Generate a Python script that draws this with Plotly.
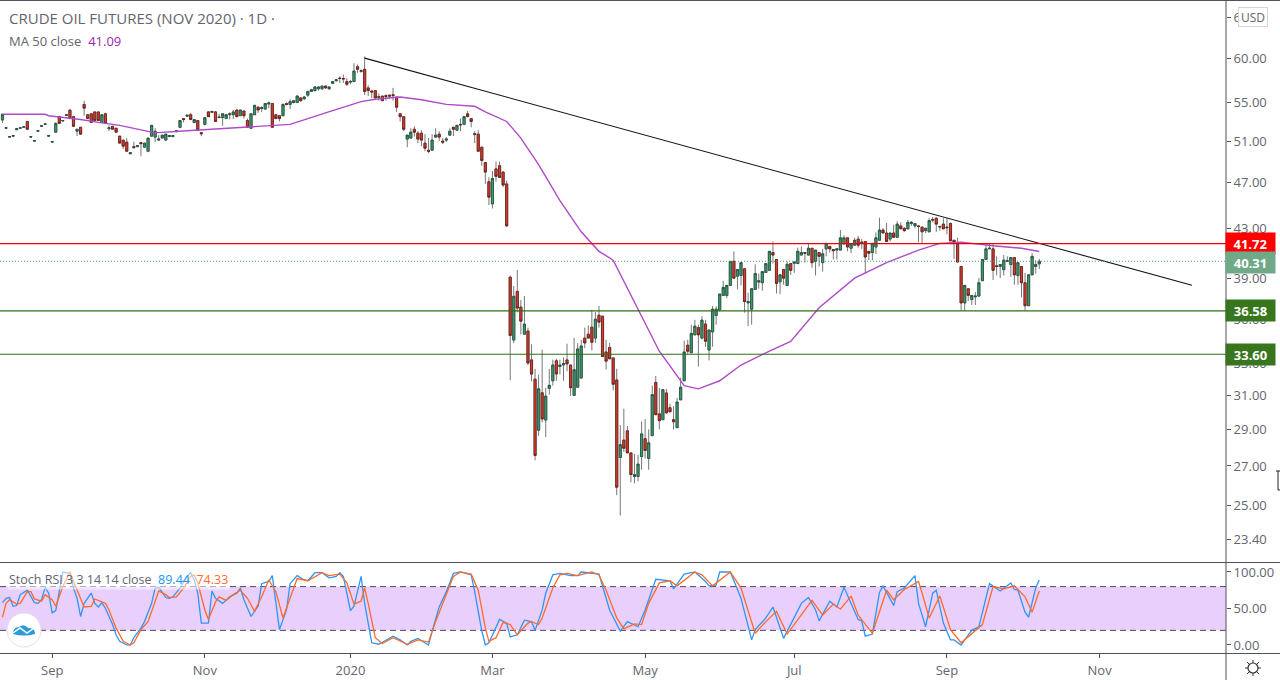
import plotly.graph_objects as go
from plotly.subplots import make_subplots

# daily bars (log price scale)
opens = [53.15,52.3,51.4,51.5,52.15,52.3,52.4,53.0,51.4,51.0,52.0,52.5,52.7,51.5,50.9,51.9,53.5,53.05,53.7,54.2,
         53.5,52.0,52.4,54.8,53.7,53.8,54.0,54.0,52.9,53.8,52.25,52.5,52.3,51.5,51.1,50.9,49.75,50.45,50.45,50.85,
         50.4,50.0,51.5,51.4,51.1,51.3,51.1,51.45,51.45,51.95,52.4,53.3,53.55,53.7,52.9,53.1,51.85,52.7,54.0,53.95,
         54.0,53.4,53.4,53.3,53.7,53.7,54.2,53.6,54.1,53.1,52.3,53.7,54.5,54.35,54.3,54.85,54.9,53.7,53.6,53.6,
         54.9,54.8,55.0,55.0,55.5,55.4,55.8,56.2,56.3,56.5,56.5,56.8,56.5,57.1,57.4,57.7,57.65,57.3,57.25,57.3,
         59.0,58.45,58.7,56.6,56.25,56.3,55.55,55.7,55.75,55.8,55.85,55.6,53.8,53.5,51.2,51.3,52.2,51.8,51.8,50.8,
         50.1,50.1,51.4,51.7,51.0,51.1,51.6,52.4,52.1,52.7,52.7,53.8,53.3,51.65,51.7,50.4,48.9,47.1,45.1,48.3,
         48.6,48.0,46.9,39.07,34.55,38.0,36.85,34.95,35.16,33.23,32.0,28.96,31.16,29.54,31.43,31.9,33.17,32.8,32.9,33.23,
         32.9,31.0,31.5,32.07,34.68,34.95,35.43,34.68,36.27,36.2,33.75,34.05,33.36,31.95,27.45,28.4,28.92,27.7,26.45,26.45,
         27.5,28.48,27.4,28.65,31.8,29.9,29.56,31.15,30.26,29.56,29.1,30.73,31.9,34.2,33.7,34.9,35.4,34.68,35.65,33.88,
         35.1,36.25,36.65,37.7,37.7,38.45,40.3,39.15,39.2,39.72,37.15,36.7,38.15,38.7,38.65,39.43,39.6,41.0,40.45,38.72,
         39.67,38.45,40.13,40.15,40.13,40.8,41.0,40.8,41.35,40.3,41.0,40.2,41.3,41.5,41.25,41.2,41.2,41.7,42.2,41.35,
         41.6,42.1,41.75,41.9,41.1,41.0,41.45,42.0,42.85,42.6,42.1,42.6,42.25,43.2,43.0,42.95,43.4,43.2,43.2,43.1,
         42.8,42.7,43.75,43.85,43.1,43.35,43.1,43.4,42.0,41.65,39.9,37.15,38.2,37.4,37.6,37.65,38.8,40.45,41.3,41.3,
         39.95,39.9,39.65,40.3,40.05,40.6,39.2,39.9,38.65,36.95,39.25,39.9,40.1]
highs = [53.8,52.35,51.45,51.55,52.25,52.35,52.45,53.05,51.45,51.05,52.05,52.55,52.75,51.55,50.95,52.9,53.6,53.1,53.75,54.2,
         53.5,52.2,52.4,55.2,53.7,53.8,54.0,54.0,53.7,53.9,52.6,52.5,52.3,51.5,51.1,51.3,49.85,50.95,50.55,50.85,
         50.8,51.3,52.6,52.3,51.6,51.6,51.7,51.55,51.55,52.05,53.1,53.3,53.65,53.9,53.2,53.1,51.85,53.4,54.1,54.05,
         54.1,53.8,53.8,53.8,53.95,54.2,54.25,54.25,54.1,53.3,53.8,54.7,54.6,54.6,54.9,55.1,54.9,53.7,53.6,54.9,
         55.0,55.35,55.2,55.8,55.6,55.7,56.3,56.5,56.8,56.8,56.9,56.9,56.7,57.35,57.6,57.9,58.1,57.7,57.5,59.4,
         59.25,58.7,60.2,56.9,56.4,56.3,56.0,55.7,55.9,55.85,56.6,55.6,53.8,53.5,51.6,52.3,52.5,52.0,52.1,51.7,
         51.3,51.7,52.3,52.0,51.3,51.4,52.3,52.4,52.6,53.3,53.5,54.1,53.3,52.0,52.1,50.4,48.9,47.5,48.1,49.0,
         49.0,48.1,47.2,39.2,38.4,39.62,37.37,37.66,35.4,34.26,32.65,32.3,33.9,31.46,32.65,33.25,33.3,33.25,33.4,34.3,
         32.9,34.7,34.35,34.57,35.4,35.55,36.65,36.5,36.93,36.2,34.57,34.35,33.36,32.66,29.25,30.2,29.2,27.7,27.65,27.6,
         29.45,29.6,29.0,31.6,32.2,31.45,31.35,31.4,30.5,30.35,30.85,32.1,34.5,34.57,35.6,35.94,35.6,36.2,35.94,35.23,
         36.93,36.9,37.8,38.8,38.45,40.3,41.1,39.67,40.2,39.72,37.9,38.2,40.07,39.35,39.5,40.13,41.1,41.9,40.45,39.25,
         39.67,40.3,40.13,40.25,41.4,41.5,41.05,41.7,41.35,41.2,41.0,41.3,41.75,41.5,41.3,41.3,42.85,42.4,42.2,41.7,
         42.2,42.35,42.1,41.9,41.1,41.75,42.65,43.9,43.0,43.45,42.6,43.3,43.6,43.5,43.1,43.7,43.6,43.4,43.25,43.1,
         43.0,43.85,43.95,43.95,43.2,43.85,43.85,43.5,42.0,42.2,39.9,38.45,38.2,37.7,37.95,39.0,40.45,41.7,41.7,41.7,
         40.7,40.1,40.8,40.7,40.6,40.6,40.2,39.9,39.4,39.25,40.95,40.4,40.5]
lows = [52.85,52.25,51.35,51.45,52.15,52.25,52.35,52.1,51.35,50.95,51.95,52.45,52.65,51.45,50.85,51.9,52.8,53.0,53.65,53.3,
        52.5,51.5,51.7,53.6,53.3,52.9,53.1,53.1,52.9,52.8,52.0,52.2,51.9,50.8,50.2,50.0,49.75,50.35,50.45,49.5,
        50.4,49.9,51.5,50.9,51.0,51.3,51.1,51.45,51.45,51.95,52.3,52.9,53.55,53.2,52.8,52.1,51.5,52.6,53.5,53.95,
        53.0,53.4,52.55,53.3,53.2,53.25,53.5,53.6,53.3,52.35,52.3,53.7,53.9,54.0,54.3,54.4,52.4,53.3,53.0,53.6,
        54.7,54.3,54.9,55.0,55.1,55.3,55.6,56.2,56.2,56.3,56.4,56.5,56.4,57.1,57.3,57.15,57.15,56.8,57.0,57.3,
        58.3,58.3,55.8,55.7,55.5,55.5,55.2,55.2,55.2,55.4,55.2,54.0,53.0,52.0,50.4,51.3,51.45,50.8,50.5,50.0,
        49.8,50.1,51.3,51.0,50.7,50.9,51.6,51.5,52.1,52.0,52.7,53.5,52.4,50.8,50.0,48.6,46.9,45.0,44.7,47.1,
        47.5,46.6,43.1,31.93,34.35,36.47,34.93,34.9,32.9,31.86,27.3,28.64,29.4,28.57,31.05,31.6,31.9,32.3,31.9,32.5,
        30.97,31.0,31.5,32.07,34.0,34.68,33.85,34.35,35.4,33.45,32.6,33.3,31.3,25.5,24.5,27.75,27.7,26.15,26.1,26.2,
        26.8,27.4,26.8,28.65,29.85,29.0,29.56,29.9,30.02,29.0,29.1,30.73,31.9,33.6,33.7,34.9,32.8,34.6,34.1,33.2,
        34.1,35.6,36.55,37.7,37.5,38.4,39.0,38.15,38.45,36.45,35.5,35.6,38.15,38.2,38.05,39.43,39.55,40.13,37.85,37.8,
        38.5,38.4,39.25,39.4,40.13,40.8,40.2,40.75,39.8,39.2,39.9,39.5,40.7,41.0,40.45,40.45,41.2,41.7,41.1,40.95,
        41.6,41.4,41.3,39.35,40.4,40.4,40.9,42.0,42.6,41.9,41.9,42.25,42.2,42.95,42.7,42.9,43.2,43.0,41.85,41.7,
        42.6,42.7,43.5,42.7,42.8,42.95,42.5,41.95,40.5,40.25,36.6,36.6,37.3,37.0,37.0,37.65,38.8,40.45,41.3,38.85,
        39.2,39.0,39.2,40.3,39.1,38.5,38.5,37.55,36.6,36.95,39.25,39.35,39.7]
closes = [53.75,52.35,51.45,51.55,52.25,52.35,52.45,52.2,51.45,51.05,52.05,52.55,52.75,51.55,50.95,52.8,52.8,53.1,53.65,53.3,
          52.5,52.2,51.7,54.4,53.3,52.9,53.1,53.1,53.7,52.8,52.35,52.2,51.9,50.8,50.5,50.0,49.85,50.35,50.55,50.75,
          50.8,51.3,52.6,52.0,51.2,51.6,51.7,51.55,51.55,52.05,53.1,53.2,53.65,53.2,53.2,52.1,51.75,53.4,53.5,54.05,
          53.0,53.45,53.8,53.7,53.8,54.0,53.5,54.2,53.6,52.4,53.8,54.7,54.2,54.45,54.9,54.95,52.4,53.3,53.3,54.8,
          54.8,55.1,55.2,55.7,55.2,55.6,56.2,56.4,56.7,56.7,56.8,56.6,56.7,57.3,57.5,57.65,57.6,57.0,57.3,58.5,
          58.7,58.55,56.2,56.3,56.15,55.5,55.65,55.2,55.65,55.7,55.75,54.5,53.5,52.2,51.6,51.9,51.9,51.2,51.1,50.3,
          50.0,51.1,51.6,51.4,50.9,51.2,52.0,52.2,52.6,52.65,53.5,53.5,53.0,51.75,50.0,49.1,48.0,45.7,47.4,47.6,
          47.5,46.8,43.2,34.86,37.64,36.78,35.85,35.64,33.03,32.32,27.56,31.4,29.6,30.96,31.62,32.9,32.33,32.9,33.0,32.97,
          31.47,32.6,33.95,34.15,34.35,34.68,34.4,35.99,35.78,33.45,33.15,33.3,31.68,25.9,28.15,27.95,27.7,26.55,26.55,27.1,
          28.75,27.83,28.25,31.05,29.85,29.5,31.35,29.96,30.02,29.44,30.6,31.5,33.75,33.8,35.0,35.5,34.9,35.92,34.47,35.23,
          36.7,36.7,37.8,38.3,38.45,40.3,39.0,39.67,40.2,37.25,37.25,38.2,39.35,38.8,39.5,40.13,41.1,40.8,38.6,39.25,
          39.0,40.07,39.6,40.25,41.1,41.0,40.95,41.35,40.2,41.2,40.7,40.9,41.75,41.3,41.15,41.3,42.2,42.2,41.45,41.7,
          42.0,41.6,41.85,40.65,40.95,41.75,42.2,42.85,42.6,41.9,42.6,42.25,43.35,42.95,42.8,43.5,43.5,43.4,43.15,42.7,
          43.0,43.65,43.7,43.35,43.15,42.95,43.05,41.95,41.85,40.25,37.15,38.45,37.7,37.7,37.65,38.65,40.45,41.3,41.35,39.6,
          39.9,40.05,40.4,40.35,40.6,39.25,40.2,38.65,36.95,39.25,40.7,40.05,40.31]

ma_bars = [0,12,13,22,27,33,42,44,52,59,65,72,81,91,101,105,112,118,125,133,136,142,146,151,157,163,168,172,179,185,
           192,196,202,208,216,222,230,240,249,258,264,270,279,287,292]
ma_values = [53.75,53.75,53.6,53.2,52.9,52.6,51.9,51.85,52.05,52.2,52.35,52.5,52.7,53.9,55.1,55.35,55.6,55.3,54.8,54.6,
             54.0,53.0,51.3,48.7,45.4,42.7,41.1,40.4,36.7,33.8,31.6,31.4,31.9,32.9,33.8,34.45,36.8,39.0,40.2,41.2,
             41.75,41.85,41.55,41.35,41.09]

k_bars = [0,1,2,3,4,5,7,9,10,11,12,13,14,15,16,17,19,20,21,22,23,25,26,27,28,29,31,32,33,35,36,37,39,40,42,43,44,46,47,48,
          50,52,53,54,55,56,58,59,60,62,64,66,67,68,70,72,73,75,76,77,78,80,81,83,85,86,88,90,92,94,95,96,98,99,101,102,104,106,108,110,
          112,114,115,117,120,121,123,125,127,129,132,133,135,136,137,140,142,143,145,147,149,150,152,153,155,157,160,162,163,168,171,173,174,176,179,181,184,188,189,192,
          195,198,199,201,202,205,208,211,212,215,217,220,223,225,227,229,230,233,235,237,241,242,243,245,247,248,251,252,254,257,258,260,262,263,265,267,268,270,271,273,
          275,278,281,284,285,286,288,289,291,292]
k_values = [58,64,65,53,54,69,75,58,57,62,79,71,44,47,73,100,98,78,64,39,57,71,57,52,58,50,28,14,5,0,0,10,23,32,57,78,79,65,64,66,
            78,94,99,89,71,30,30,74,64,57,66,71,78,62,39,53,84,87,95,57,21,48,84,95,89,88,99,99,92,94,99,94,47,53,94,57,3,1,6,12,
            7,0,5,9,0,19,52,73,98,100,96,73,19,0,3,35,30,11,14,34,32,20,48,71,96,98,95,95,100,97,48,30,19,32,25,48,90,88,77,97,
            100,87,81,82,100,100,64,7,21,37,52,9,39,57,65,48,33,60,52,79,35,33,12,15,72,81,54,73,78,95,57,25,71,75,30,7,7,0,7,20,
            25,84,74,85,76,75,45,38,78,89]
d_bars = [0,1,2,4,5,7,8,9,11,12,14,15,17,19,20,22,23,25,26,29,30,32,34,36,37,39,41,43,44,46,47,49,51,53,54,55,57,58,60,61,
          63,65,67,69,71,73,75,77,79,81,83,86,90,92,95,97,99,101,102,103,105,107,110,114,117,120,122,125,127,129,132,134,136,137,139,141,143,145,148,149,
          151,152,155,157,159,162,166,168,170,173,175,178,180,182,185,188,190,195,197,200,203,205,208,211,212,215,218,221,224,228,231,234,236,239,241,243,245,249,251,254,
          258,259,261,264,267,270,273,276,279,282,285,288,290,292]
d_values = [38,57,62,56,57,73,73,63,60,69,62,53,80,100,87,62,52,53,63,57,48,23,5,0,3,21,32,60,74,69,65,66,78,94,96,85,48,35,59,66,
            61,69,75,64,46,66,89,73,37,64,91,88,99,95,97,85,56,60,78,57,10,2,10,1,7,4,32,69,94,100,97,75,23,5,10,31,28,14,30,32,
            28,37,78,96,98,95,100,96,75,37,22,29,28,57,85,88,81,100,96,81,93,100,78,30,16,32,46,15,35,61,41,56,49,67,41,28,16,75,62,76,
            87,71,37,67,21,3,16,28,80,77,81,66,45,74]

price_ticks = [65, 60, 55, 51, 47, 43, 39, 36, 33, 31, 29, 27, 25, 23.4]
stoch_ticks = [0, 50, 100]
stoch_bands = [20, 80]
time_ticks = [14, 57, 98, 138, 181, 223, 266, 309]
time_labels = ["Sep", "Nov", "2020", "Mar", "May", "Jul", "Sep", "Nov"]

# horizontal levels and the drawn trend line
red_level = 41.72
green_levels = [36.58, 33.60]
last_close = 40.31
ma_last = 41.09
k_last = 89.44
d_last = 74.33
trend_bars = [102, 335]
trend_prices = [60.0, 38.46]

W, H = 1280, 680
AXIS_X = 1226
FONT = "Open Sans"
TEXT = "#62656e"
UP_FILL, UP_EDGE = "#3f9a6e", "#1d4d38"
DOWN_FILL, DOWN_EDGE = "#d63b2c", "#611a14"
LEFT_BAR, RIGHT_BAR = -0.7, 344.6


def px_x(px):
    return px / W


def px_y(py):
    return 1 - py / H


def add_label(fig, text, px, py, size=13, color=TEXT, anchor="left", **kwargs):
    fig.add_annotation(text=text, x=px_x(px), y=px_y(py), xref="paper", yref="paper", showarrow=False,
                       xanchor=anchor, yanchor="middle", font=dict(family=FONT, size=size, color=color), **kwargs)


def add_price_tag(fig, price, py, color):
    add_label(fig, f"<b>{price:.2f}</b>", AXIS_X + 24, py, color="white", anchor="center",
              bgcolor=color, width=47, height=19)


fig = make_subplots(rows=2, cols=1, shared_xaxes=True, vertical_spacing=0, row_heights=[0.86, 0.14])

# grey wicks underneath, bodies with a dark edge on top
fig.add_trace(go.Candlestick(x=list(range(len(opens))), open=opens, high=highs, low=lows, close=closes, whiskerwidth=0,
                             increasing=dict(line=dict(color="#777777", width=1), fillcolor="#777777"),
                             decreasing=dict(line=dict(color="#777777", width=1), fillcolor="#777777")), row=1, col=1)
body_top = [max(o, c) for o, c in zip(opens, closes)]
body_bottom = [min(o, c) for o, c in zip(opens, closes)]
fig.add_trace(go.Candlestick(x=list(range(len(opens))), open=opens, high=body_top, low=body_bottom, close=closes, whiskerwidth=0,
                             increasing=dict(line=dict(color=UP_EDGE, width=0.7), fillcolor=UP_FILL),
                             decreasing=dict(line=dict(color=DOWN_EDGE, width=0.7), fillcolor=DOWN_FILL)), row=1, col=1)

fig.add_trace(go.Scatter(x=ma_bars, y=ma_values, mode="lines", line=dict(color="#b04ac6", width=1.4)), row=1, col=1)
fig.add_trace(go.Scatter(x=trend_bars, y=trend_prices, mode="lines", line=dict(color="#111111", width=1.1)), row=1, col=1)
fig.add_trace(go.Scatter(x=[LEFT_BAR, RIGHT_BAR], y=[red_level, red_level], mode="lines",
                         line=dict(color="#f00000", width=1.2)), row=1, col=1)
for level in green_levels:
    fig.add_trace(go.Scatter(x=[LEFT_BAR, RIGHT_BAR], y=[level, level], mode="lines",
                             line=dict(color="#2f6e14", width=1.2)), row=1, col=1)
fig.add_trace(go.Scatter(x=[LEFT_BAR, RIGHT_BAR], y=[last_close, last_close], mode="lines",
                         line=dict(color="#4f9c74", width=1.2, dash="1px,2px")), row=1, col=1)

# stoch rsi pane
fig.add_shape(type="rect", x0=0, x1=AXIS_X / W, xref="paper", y0=stoch_bands[0], y1=stoch_bands[1], yref="y2",
              fillcolor="#e9cffc", line_width=0, layer="below")
for band in stoch_bands:
    fig.add_trace(go.Scatter(x=[LEFT_BAR, RIGHT_BAR], y=[band, band], mode="lines",
                             line=dict(color="#55475f", width=1, dash="6px,4px")), row=2, col=1)
fig.add_trace(go.Scatter(x=k_bars, y=k_values, mode="lines", line=dict(color="#2f96f3", width=1.3)), row=2, col=1)
fig.add_trace(go.Scatter(x=d_bars, y=d_values, mode="lines", line=dict(color="#ff6a2b", width=1.3)), row=2, col=1)

fig.update_layout(
    width=W, height=H, margin=dict(l=0, r=0, t=0, b=0), showlegend=False,
    paper_bgcolor="white", plot_bgcolor="rgba(0,0,0,0)", boxgap=0.14,
    font=dict(family=FONT, size=13, color=TEXT),
)
fig.update_xaxes(range=[LEFT_BAR, RIGHT_BAR], domain=[0, AXIS_X / W], showgrid=False, zeroline=False,
                 rangeslider_visible=False, showline=False)
fig.update_xaxes(showticklabels=False, ticks="", row=1, col=1)
fig.update_xaxes(tickvals=time_ticks, ticktext=time_labels, ticks="outside", ticklen=4, tickcolor="#50535e",
                 ticklabelstandoff=1, tickfont=dict(family=FONT, size=13, color=TEXT), row=2, col=1)
fig.update_yaxes(type="log", range=[1.3497, 1.8267], domain=[px_y(562), px_y(1)], side="right", showgrid=False,
                 zeroline=False, tickvals=price_ticks, ticktext=[f"{p:.2f}" for p in price_ticks], ticks="outside",
                 ticklen=4, tickcolor="#50535e", tickfont=dict(family=FONT, size=13, color=TEXT), row=1, col=1)
fig.update_yaxes(range=[-11, 112.3], domain=[px_y(653), px_y(563)], side="right", showgrid=False, zeroline=False,
                 tickvals=stoch_ticks, ticktext=[f"{v:.2f}" for v in stoch_ticks], ticks="outside", ticklen=4,
                 tickcolor="#50535e", tickfont=dict(family=FONT, size=13, color=TEXT), row=2, col=1)

# pane separators
for py in [0.5, 562.5, 653.5]:
    fig.add_shape(type="line", x0=0, x1=1, y0=px_y(py), y1=px_y(py), xref="paper", yref="paper",
                  line=dict(color="#50535e", width=1))
fig.add_shape(type="line", x0=AXIS_X / W, x1=AXIS_X / W, y0=0, y1=1, xref="paper", yref="paper",
              line=dict(color="#50535e", width=1))

add_label(fig, "CRUDE OIL FUTURES (NOV 2020) · 1D ·", 7, 18, size=15)
add_label(fig, f'MA 50 close  <span style="color:#9c27b0">{ma_last:.2f}</span>', 7, 41, size=13)
add_label(fig, f'Stoch RSI 3 3 14 14 close  <span style="color:#2196f3">{k_last:.2f}</span>'
               f'  <span style="color:#ff6d2e">{d_last:.2f}</span>', 7, 579, size=12.5,
          bgcolor="rgba(255,255,255,0.55)")

add_price_tag(fig, red_level, 243, "#ff0000")
add_price_tag(fig, last_close, 262, "#6fa988")
add_price_tag(fig, green_levels[0], 311, "#38761d")
add_price_tag(fig, green_levels[1], 354, "#38761d")
add_label(fig, "USD", 1253, 17, size=12, anchor="center", bgcolor="white", bordercolor="#d5d5d8", borderwidth=1, width=26, height=16)

# settings gear, logo badge and the stray cursor at the right edge
fig.add_shape(type="circle", x0=px_x(1248), x1=px_x(1258), y0=px_y(673), y1=px_y(663), xref="paper", yref="paper",
              line=dict(color="#333333", width=1.2))
for x0, y0, x1, y1 in [(1253, 660, 1253, 663), (1253, 673, 1253, 676), (1245, 668, 1248, 668), (1258, 668, 1261, 668),
                       (1247, 662, 1249, 664), (1257, 672, 1259, 674), (1247, 674, 1249, 672), (1257, 664, 1259, 662)]:
    fig.add_shape(type="line", x0=px_x(x0), x1=px_x(x1), y0=px_y(y0), y1=px_y(y1), xref="paper", yref="paper",
                  line=dict(color="#333333", width=1))
fig.add_shape(type="path", xref="paper", yref="paper", line=dict(color="#222222", width=1),
              path="M {} {} L {} {} M {} {} L {} {} L {} {}".format(px_x(1276), px_y(471), px_x(1280), px_y(471),
                                                                     px_x(1278), px_y(471), px_x(1278), px_y(490), px_x(1280), px_y(490)))

fig.add_shape(type="circle", x0=px_x(7), x1=px_x(41), y0=px_y(647), y1=px_y(613), xref="paper", yref="paper",
              fillcolor="white", line=dict(color="#e4dcea", width=1))
fig.add_shape(type="path", xref="paper", yref="paper", fillcolor="#2a9ad8", line_width=0,
              path="M {} {} Q {} {} {} {} Q {} {} {} {} Q {} {} {} {} Q {} {} {} {} Z".format(
                  px_x(13), px_y(634), px_x(13), px_y(627), px_x(19), px_y(627), px_x(24), px_y(623), px_x(28), px_y(628),
                  px_x(35), px_y(627), px_x(35), px_y(634), px_x(24), px_y(637), px_x(13), px_y(634)))
fig.add_shape(type="path", xref="paper", yref="paper", line=dict(color="white", width=1.5),
              path="M {} {} L {} {} L {} {} L {} {}".format(px_x(13), px_y(633), px_x(20), px_y(628), px_x(27), px_y(633), px_x(34), px_y(628)))

fig.write_html("out.html", config={"displayModeBar": False}, post_script="document.body.style.margin='0';")
